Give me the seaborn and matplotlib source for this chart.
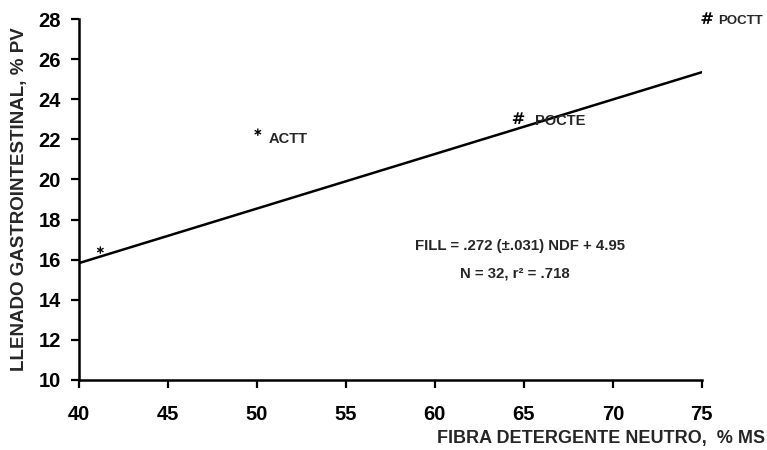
import matplotlib
matplotlib.use("Agg")
import matplotlib.pyplot as plt
import seaborn as sns
import pandas as pd

# Data
pt_x = [41.2, 50.05, 64.7, 75.3]
pt_y = [16.48, 22.36, 23.06, 28.05]
pt_sym = ["*", "*", "#", "#"]
pt_lab = ["", "ACTT", "POCTE", "POCTT"]

line_x = [40, 75]
line_y = [15.83, 25.35]

x_ticks = [40, 45, 50, 55, 60, 65, 70, 75]
y_ticks = [10, 12, 14, 16, 18, 20, 22, 24, 26, 28]

eq_text = "FILL = .272 (±.031) NDF + 4.95"
stat_text = "N = 32, r² = .718"
xlabel = "FIBRA DETERGENTE NEUTRO,  % MS"
ylabel = "LLENADO GASTROINTESTINAL, % PV"

sns.set_theme(style="ticks")
plt.rcParams["font.family"] = ["Liberation Sans", "DejaVu Sans"]
plt.rcParams["font.weight"] = "bold"

fig = plt.figure(figsize=(7.67, 4.5), dpi=100)
ax = fig.add_axes([0.103, 0.1556, 0.812, 0.802])

df_line = pd.DataFrame({"x": line_x, "y": line_y})
sns.lineplot(data=df_line, x="x", y="y", color="black", linewidth=1.8, ax=ax)

df_pts = pd.DataFrame({"x": pt_x, "y": pt_y, "s": pt_sym})
for sym, mk, sz in [("*", r"$\ast$", 28), ("#", r"$\#$", 70)]:
    sub = df_pts[df_pts["s"] == sym]
    sns.scatterplot(data=sub, x="x", y="y", marker=mk, s=sz, color="black",
                    edgecolor="none", ax=ax, clip_on=False, zorder=5)

lab_dx = [0, 0.6, 0.9, 0.6]
lab_fs = [10, 10.5, 10.5, 9.5]
for x, y, lab, dx, fs in zip(pt_x, pt_y, pt_lab, lab_dx, lab_fs):
    if lab:
        ax.text(x + dx, y - 0.35 if lab == "ACTT" else y - 0.15, lab,
                fontsize=fs, fontweight="bold", ha="left", va="center",
                clip_on=False)

ax.text(64.78, 16.68, eq_text, fontsize=10.8, fontweight="bold",
        ha="center", va="center")
ax.text(64.47, 15.3, stat_text, fontsize=10.8, fontweight="bold",
        ha="center", va="center")

ax.set_xlim(40, 75)
ax.set_ylim(10, 28)
ax.set_xticks(x_ticks)
ax.set_yticks(y_ticks)
ax.tick_params(axis="both", labelsize=14.5, width=1.6, length=6, color="black",
               labelcolor="black")
ax.tick_params(axis="x", pad=12)
ax.tick_params(axis="y", pad=7)
for t in ax.get_xticklabels() + ax.get_yticklabels():
    t.set_fontweight("bold")
for side in ["left", "bottom"]:
    ax.spines[side].set_linewidth(1.8)
    ax.spines[side].set_color("black")
sns.despine(ax=ax)

ax.set_xlabel("")
ax.set_ylabel("")
fig.text(0.997, 0.006, xlabel, fontsize=13, fontweight="bold",
         ha="right", va="bottom")
fig.text(0.025, 0.557, ylabel, fontsize=13.5, fontweight="bold",
         rotation=90, ha="center", va="center")

fig.savefig("out.png", dpi=100)
